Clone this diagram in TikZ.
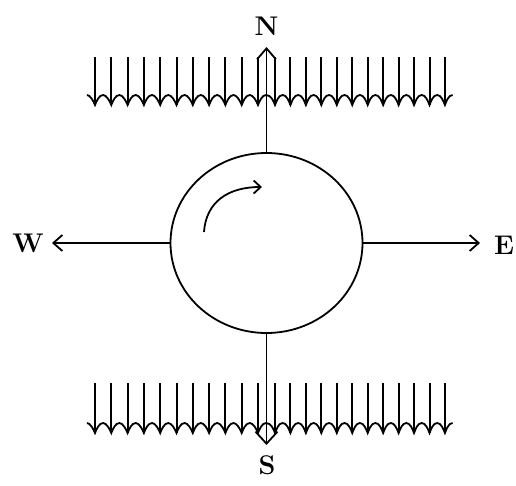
\documentclass[tikz,border=0pt]{standalone}
\usepackage{fontspec}
\setmainfont{Latin Modern Roman}
\usetikzlibrary{arrows.meta,shapes.geometric}
\begin{document}
\begin{tikzpicture}[x=1pt,y=-1pt,
  ln/.style={line width=1.8pt,black},
  wl/.style={line width=2pt,black},
  lbl/.style={inner sep=0pt,font=\fontsize{27}{32}\selectfont\bfseries},
  barb/.style={-{Straight Barb[length=9pt,width=16pt,line width=1.8pt]}}]
\useasboundingbox (0,0) rectangle (516,485);
% globe
\node[ellipse,draw,ln,minimum width=192pt,minimum height=180pt,inner sep=0pt] (C) at (266.5,243) {};
% labels
\node[lbl] (N) at (266.5,26) {N};
\node[lbl] (S) at (267,465) {S};
\node[lbl,anchor=east] (W) at (44,243) {W};
\node[lbl,anchor=west] (E) at (494,245) {E};
\coordinate (Nt) at (266.5,47);
\coordinate (St) at (266.5,445);
\coordinate (Wt) at (52,243);
\coordinate (Et) at (480,243);
% axis arrows
\draw[ln,-{Straight Barb[length=11pt,width=19pt,line width=1.8pt]}] (C.north) -- (Nt);
\draw[ln,-{Straight Barb[length=12pt,width=22pt,line width=1.8pt]}] (C.south) -- (St);
\draw[ln,barb] (C.west) -- (Wt);
\draw[ln,barb] (C.east) -- (Et);
% rotation arrow
\coordinate (R1) at (204,232);
\coordinate (R2) at (262,187);
\draw[ln,-{Straight Barb[length=7pt,width=13pt,line width=1.8pt]}] (R1) .. controls (206,202) and (228,187) .. (R2);
% wind arrow rows
\foreach \yt/\yb in {57/105, 383/433}{
  \pgfmathsetmacro{\yp}{\yb-10}
  \foreach \k in {0,...,10}{
    \pgfmathsetmacro{\xx}{95+16.3*\k}
    \draw[wl] (\xx,\yt) -- (\xx,\yb);
  }
  \foreach \k in {0,...,11}{
    \pgfmathsetmacro{\xx}{275+15.45*\k}
    \draw[wl] (\xx,\yt) -- (\xx,\yb);
  }
  % scalloped heads
  \draw[ln,line join=miter] (87,\yp)
    \foreach \k in {0,...,10}{
      \pgfextra{\pgfmathsetmacro{\xx}{95+16.3*\k}\pgfmathsetmacro{\mm}{\xx+8.15}}
      .. controls (\xx-5,\yp) and (\xx-1.5,\yb-4) .. (\xx,\yb)
      .. controls (\xx+1.5,\yb-4) and (\mm-4,\yp) .. (\mm,\yp)
    }
    \foreach \k in {0,...,11}{
      \pgfextra{\pgfmathsetmacro{\xx}{275+15.45*\k}\pgfmathsetmacro{\mm}{\xx+7.7}}
      .. controls (\xx-4,\yp) and (\xx-1.5,\yb-4) .. (\xx,\yb)
      .. controls (\xx+1.5,\yb-4) and (\mm-4,\yp) .. (\mm,\yp)
    };
}
\end{tikzpicture}
\end{document}
